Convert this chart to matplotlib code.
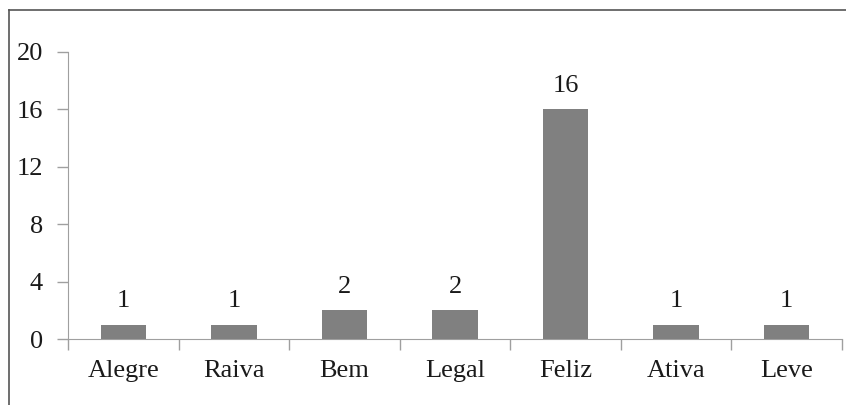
import matplotlib
matplotlib.use('Agg')
import matplotlib.pyplot as plt
from matplotlib.lines import Line2D
import numpy as np

categories = ['Alegre', 'Raiva', 'Bem', 'Legal', 'Feliz', 'Ativa', 'Leve']
values = [1, 1, 2, 2, 16, 1, 1]
yticks = [0, 4, 8, 12, 16, 20]

plt.rcParams['font.family'] = 'Liberation Serif'
fs = 19

fig = plt.figure(figsize=(8.46, 4.05), dpi=100)
ax = fig.add_axes([68/846, 1-339/405, (842-68)/846, (339-52)/405])

x = np.arange(len(categories))
ax.bar(x, values, width=0.41, color='#808080', zorder=3)
for xi, v in zip(x, values):
    ax.text(xi, v + 0.85, str(v), ha='center', va='bottom', fontsize=fs, color='#1a1a1a')

ax.set_xlim(-0.5, len(categories) - 0.5)
ax.set_ylim(0, 20)
ax.set_yticks(yticks)
ax.set_yticklabels([str(t) for t in yticks], fontsize=fs, color='#1a1a1a')
ax.set_xticks(np.arange(len(categories) + 1) - 0.5)
ax.set_xticklabels([])
ax.set_xticks(x, minor=True)
ax.set_xticklabels(categories, minor=True, fontsize=fs, color='#1a1a1a')
ax.tick_params(axis='x', which='minor', length=0, pad=15)
ax.tick_params(axis='x', which='major', length=8, color='#9f9f9f', width=1)
ax.tick_params(axis='y', length=8, color='#9f9f9f', width=1, pad=10)

for s in ['top', 'right']:
    ax.spines[s].set_visible(False)
ax.spines['left'].set_color('#9f9f9f')
ax.spines['bottom'].set_color('#9f9f9f')

# outer frame on left and top
fig.add_artist(Line2D([9/846, 9/846], [0, 1-10/405], color='#555555', lw=1.2))
fig.add_artist(Line2D([9/846, 1], [1-10/405, 1-10/405], color='#555555', lw=1.2))

fig.savefig('out.png', dpi=100)
